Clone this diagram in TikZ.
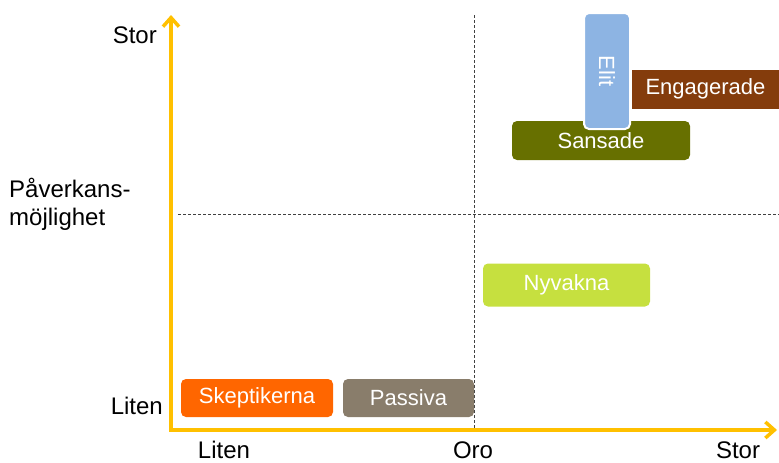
\documentclass[tikz,border=0pt]{standalone}
\usepackage{fontspec}
\setmainfont{Liberation Sans}
\usetikzlibrary{arrows.meta}
\definecolor{axiscol}{HTML}{FFC000}
\definecolor{elitcol}{HTML}{8DB4E3}
\definecolor{engcol}{HTML}{843C0C}
\definecolor{sanscol}{HTML}{677000}
\definecolor{nyvcol}{HTML}{C6E03F}
\definecolor{skepcol}{HTML}{FF6600}
\definecolor{passcol}{HTML}{897D6B}
\tikzset{
  axisline/.style={draw=axiscol, line width=3.5pt, line cap=round,
    {Straight Barb[length=9pt,width=16pt,line width=3.5pt]}-{Straight Barb[length=9pt,width=16pt,line width=3.5pt]}},
  guideline/.style={draw=black!75, line width=0.8pt, dash pattern=on 3pt off 2pt},
  box/.style={rectangle, rounded corners=5pt, inner sep=0pt, text=white,
    font=\fontsize{22}{26}\selectfont},
  axlabel/.style={inner sep=0pt, font=\fontsize{24}{28}\selectfont, text=black}
}
\begin{document}
\begin{tikzpicture}[x=1pt,y=-1pt]
\useasboundingbox (0,0) rectangle (779,463);
% guides
\coordinate (vgtop) at (474,15);
\coordinate (vgbot) at (474,430);
\coordinate (hgl) at (178,214);
\coordinate (hgr) at (779,214);
\draw[guideline] (vgtop) -- (vgbot);
\draw[guideline] (hgl) -- (hgr);
% axes
\coordinate (ytop) at (171,15);
\coordinate (orig) at (171,430);
\coordinate (xend) at (777,430);
\draw[axisline] (ytop) -- (orig) -- (xend);
% boxes
\node[box, fill=sanscol, minimum width=178pt, minimum height=39pt] (sans) at (601,140.5) {Sansade};
\node[box, fill=elitcol, draw=white, line width=2pt, rotate=-90, minimum width=116pt, minimum height=46pt] (elit) at (607,71) {Elit};
\node[box, rounded corners=0pt, fill=engcol, minimum width=147pt, minimum height=39pt] (eng) at (705.5,89) {Engagerade};
\node[box, fill=nyvcol, minimum width=167pt, minimum height=43pt] (nyv) at (566.5,285) {Nyvakna};
\node[box, fill=skepcol, minimum width=152pt, minimum height=38pt] (skep) at (257,398) {Skeptikerna};
\node[box, fill=passcol, minimum width=131pt, minimum height=38pt] (pass) at (408.5,398) {Passiva};
% labels
\node[axlabel, anchor=base east] (ystor) at (157,43) {Stor};
\node[axlabel, anchor=base east] (yliten) at (163,414) {Liten};
\node[axlabel, anchor=base west] (yp1) at (9,197) {Påverkans-};
\node[axlabel, anchor=base west] (yp2) at (9,225) {möjlighet};
\node[axlabel, anchor=base] (xliten) at (224,458) {Liten};
\node[axlabel, anchor=base] (xoro) at (473,458) {Oro};
\node[axlabel, anchor=base] (xstor) at (738,458) {Stor};
\end{tikzpicture}
\end{document}
